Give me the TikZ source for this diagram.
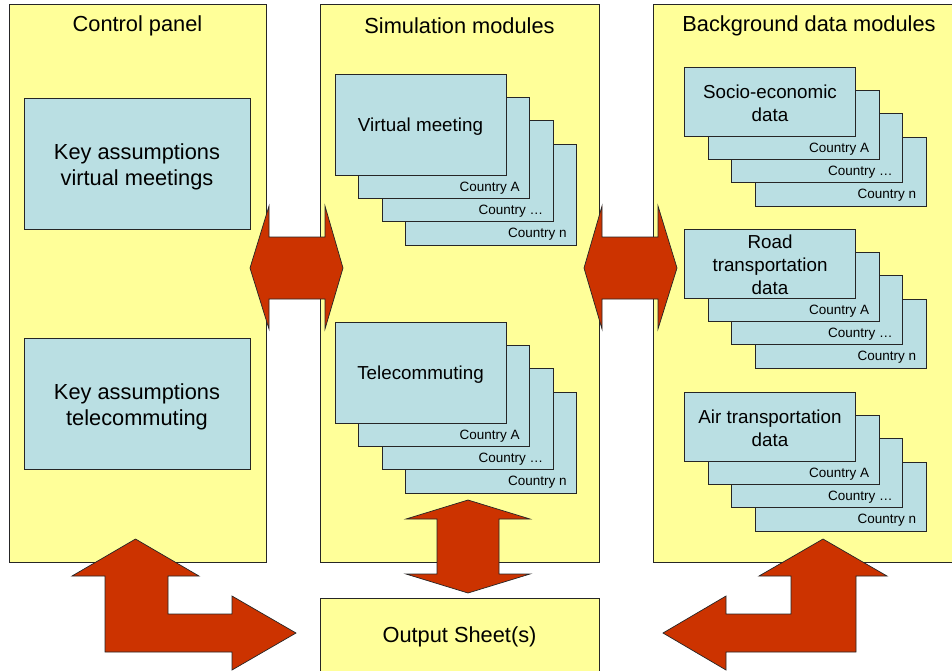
\documentclass[tikz,border=0pt]{standalone}
\usepackage{fontspec}
\setmainfont{Liberation Sans}
\usetikzlibrary{positioning}
\definecolor{paneyellow}{HTML}{FFFF99}
\definecolor{cardblue}{HTML}{BADFE3}
\definecolor{arrowred}{HTML}{CC3300}
\tikzset{
    panel/.style={rectangle, draw=black!85, fill=paneyellow, inner sep=0, line width=0.7pt},
    title/.style={inner sep=0, font=\fontsize{21.8}{26}\selectfont},
    keybox/.style={rectangle, draw=black!85, fill=cardblue, line width=0.7pt, minimum width=226pt, minimum height=131pt},
    keytext/.style={inner sep=0, align=center, font=\fontsize{21.8}{26}\selectfont},
    card/.style={rectangle, draw=black!85, fill=cardblue, line width=0.7pt, minimum width=171pt, inner sep=0},
    cardtext/.style={inner sep=0, align=center, font=\fontsize{18.8}{22.8}\selectfont},
    country/.style={inner sep=0, font=\fontsize{13.5}{16}\selectfont},
    bigarrow/.style={fill=arrowred, draw=black!85, line width=0.7pt, line join=miter}
}
\begin{document}
\begin{tikzpicture}[x=1pt, y=-1pt]
    \useasboundingbox (0,0) rectangle (952,670);
    \node[panel, minimum width=257pt, minimum height=558pt] (ctrl) at (137.5,283) {};
    \node[panel, minimum width=279pt, minimum height=558pt] (sim) at (459.5,283) {};
    \node[panel, minimum width=312pt, minimum height=558pt] (bg) at (809,283) {};
    \node[panel, minimum width=279pt, minimum height=78pt, font=\fontsize{21.8}{26}\selectfont] (out) at (459.5,637) {Output Sheet(s)};
    \node[title] (ctrltitle) at ([yshift=-22.5pt]ctrl.north) {Control panel};
    \node[title] (simtitle) at ([yshift=-22.5pt]sim.north) {Simulation modules};
    \node[title] (bgtitle) at ([yshift=-22.5pt]bg.north) {Background data modules};
    \node[keybox] (kvm) at (137,163.5) {};
    \node[keybox, below=109pt of kvm] (ktc) {};
    \node[keytext] (kvmtext) at ([yshift=-3pt]kvm.center) {Key assumptions\\virtual meetings};
    \node[keytext] (ktctext) at ([yshift=-3pt]ktc.center) {Key assumptions\\telecommuting};
    \foreach \x/\y/\h/\nm in {420.5/124.5/101/vm, 420.5/372.5/101/tc, 770/101.5/69/se, 770/263.5/69/rt, 770/426.5/69/at}{
        \foreach \i/\lab in {3/Country n, 2/Country …, 1/Country A}{
            \node[card, minimum height=\h pt] (\nm\i) at ({\x+23.5*\i},{\y+23.3*\i}) {};
            \node[country, anchor=base east] (\nm\i lab) at ([xshift=-10pt,yshift=7.5pt]\nm\i.south east) {\lab};
        }
        \node[card, minimum height=\h pt] (\nm0) at (\x,\y) {};
    }
    \node[cardtext] (vmtext) at ([yshift=-2pt]vm0.center) {Virtual meeting};
    \node[cardtext] (tctext) at ([yshift=-2pt]tc0.center) {Telecommuting};
    \node[cardtext] (setext) at ([yshift=-1.5pt]se0.center) {Socio-economic\\data};
    \node[cardtext] (rttext) at ([yshift=-1.5pt]rt0.center) {Road\\transportation\\data};
    \node[cardtext] (attext) at ([yshift=-1.5pt]at0.center) {Air transportation\\data};
    \draw[bigarrow] (250,268) -- (269,206) -- (269,237) -- (325,237) -- (325,206) -- (343,268)
        -- (325,329) -- (325,299) -- (269,299) -- (269,329) -- cycle;
    \draw[bigarrow] (584,268) -- (602,206) -- (602,237) -- (658,237) -- (658,206) -- (677,268)
        -- (658,329) -- (658,299) -- (602,299) -- (602,329) -- cycle;
    \draw[bigarrow] (468,500) -- (530,519) -- (499,519) -- (499,574) -- (530,574) -- (468,593)
        -- (406,574) -- (437,574) -- (437,519) -- (406,519) -- cycle;
    \draw[bigarrow] (135.5,539) -- (199,576) -- (168,576) -- (168,614) -- (232,614) -- (232,596)
        -- (296,633) -- (232,670) -- (232,652) -- (105,652) -- (105,576) -- (72,576) -- cycle;
    \draw[bigarrow] (823,539) -- (887,576) -- (856,576) -- (856,652) -- (726,652) -- (726,670)
        -- (663,633) -- (726,596) -- (726,614) -- (791,614) -- (791,576) -- (759,576) -- cycle;
\end{tikzpicture}
\end{document}
